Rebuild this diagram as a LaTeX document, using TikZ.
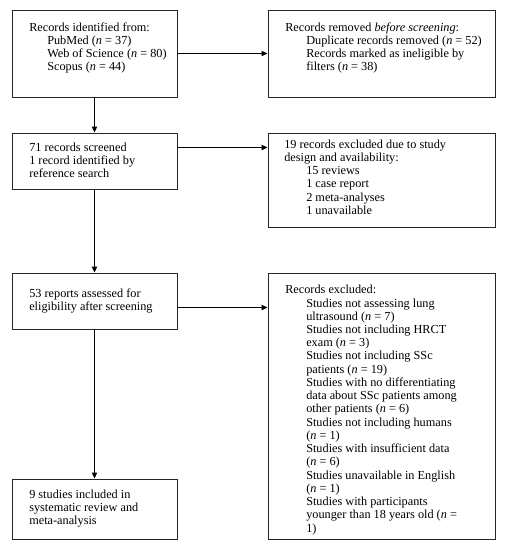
\documentclass[tikz,border=0pt]{standalone}
\usepackage{fontspec}
\setmainfont{Liberation Serif}
\usetikzlibrary{arrows.meta,fit,calc}
\begin{document}
\begin{tikzpicture}[x=0.75pt,y=-0.75pt,
  box/.style={draw=black!85,line width=0.7pt,inner sep=0pt,fit={#1}},
  txt/.style={anchor=north west,inner sep=0pt,align=left,font=\fontsize{9.2pt}{9.8pt}\selectfont},
  arr/.style={draw=black,line width=0.7pt,-{Triangle[length=4.5pt,width=4pt]}}]
\useasboundingbox[fill=white] (0,0) rectangle (506,550);
\newcommand\ind[1]{\hspace*{\dimexpr #1pt*3/4\relax}}
\newcommand\nn{\textit{n}}
% boxes
\node[box={(12,10)(177,97)}] (b1) {};
\node[box={(268,10)(495,97)}] (b2) {};
\node[box={(12,133)(177,189)}] (b3) {};
\node[box={(268,133)(495,227)}] (b4) {};
\node[box={(12,273)(177,329)}] (b5) {};
\node[box={(268,273)(495,539)}] (b6) {};
\node[box={(12,479)(177,539)}] (b7) {};
% texts
\node[txt] (t1) at (29,22.5) {Records identified from:\\
\ind{18}PubMed (\nn{} = 37)\\
\ind{18}Web of Science (\nn{} = 80)\\
\ind{18}Scopus (\nn{} = 44)};
\node[txt] (t2) at (285,22.5) {Records removed \textit{before screening}:\\
\ind{21}Duplicate records removed (\nn{} = 52)\\
\ind{21}Records marked as ineligible by\\
\ind{21}filters (\nn{} = 38)};
\node[txt] (t3) at (29,143) {71 records screened\\
1 record identified by\\
reference search};
\node[txt] (t4) at (284,140) {19 records excluded due to study\\
design and availability:\\
\ind{22}15 reviews\\
\ind{22}1 case report\\
\ind{22}2 meta-analyses\\
\ind{22}1 unavailable};
\node[txt] (t5) at (29,289) {53 reports assessed for\\
eligibility after screening};
\node[txt,font=\fontsize{9.2pt}{9.93pt}\selectfont] (t6) at (285,285) {Records excluded:\\
\ind{21}Studies not assessing lung\\
\ind{21}ultrasound (\nn{} = 7)\\
\ind{21}Studies not including HRCT\\
\ind{21}exam (\nn{} = 3)\\
\ind{21}Studies not including SSc\\
\ind{21}patients (\nn{} = 19)\\
\ind{21}Studies with no differentiating\\
\ind{21}data about SSc patients among\\
\ind{21}other patients (\nn{} = 6)\\
\ind{21}Studies not including humans\\
\ind{21}(\nn{} = 1)\\
\ind{21}Studies with insufficient data\\
\ind{21}(\nn{} = 6)\\
\ind{21}Studies unavailable in English\\
\ind{21}(\nn{} = 1)\\
\ind{21}Studies with participants\\
\ind{21}younger than 18 years old (\nn{} =\\
\ind{21}1)};
\node[txt] (t7) at (29,490) {9 studies included in\\
systematic review and\\
meta-analysis};
% connectors
\draw[arr] (b1.south) -- (b3.north);
\draw[arr] (b3.south) -- (b5.north);
\draw[arr] (b5.south) -- (b7.north);
\draw[arr] (b1.east) -- (b2.west);
\coordinate (c3) at ($(b3.north east)+(0,15)$);
\draw[arr] (c3) -- (c3 -| b4.west);
\coordinate (c5) at ($(b5.north east)+(0,35)$);
\draw[arr] (c5) -- (c5 -| b6.west);
\end{tikzpicture}
\end{document}
